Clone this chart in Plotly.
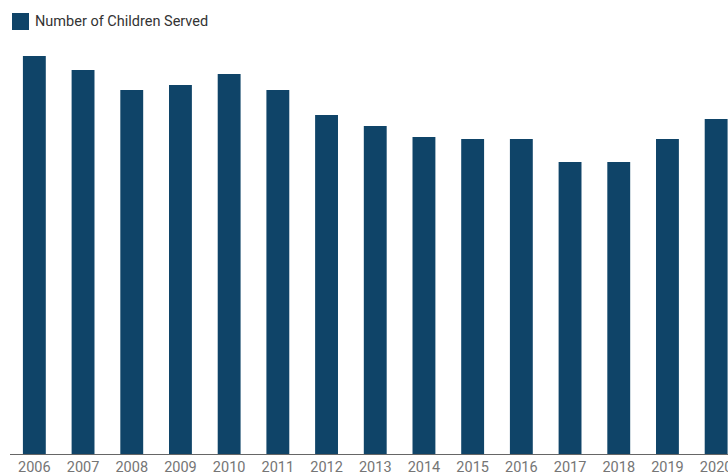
import plotly.graph_objects as go

years = ["2006", "2007", "2008", "2009", "2010", "2011", "2012", "2013",
         "2014", "2015", "2016", "2017", "2018", "2019", "2020"]
children_served = [398, 384, 364, 369, 380, 364, 339, 328, 317, 315, 315, 292, 292, 315, 335]
series_name = "Number of Children Served"
bar_color = "#0f4468"

W, H = 728, 476
ml, mr, mt, mb = 10, 0, 40, 22

fig = go.Figure()
fig.add_trace(go.Bar(x=list(range(len(years))), y=children_served, name=series_name,
                     marker=dict(color=bar_color, line=dict(width=0)),
                     showlegend=False))

cat_px = 48.7
plot_w = W - ml - mr
fig.update_layout(
    width=W, height=H,
    margin=dict(l=ml, r=mr, t=mt, b=mb),
    paper_bgcolor="white", plot_bgcolor="white",
    bargap=0.53,
    font=dict(family="Roboto", size=14, color="#757575"),
    xaxis=dict(range=[-0.5, -0.5 + plot_w / cat_px], tickmode="array",
               tickvals=list(range(len(years))), ticktext=years,
               showgrid=False, zeroline=False, showline=True,
               linecolor="#666666", linewidth=1, ticks="", ticklen=0,
               ticklabeloverflow="allow", ticklabelstandoff=0,
               automargin=False,
               tickfont=dict(family="Roboto", size=14.5, color="#757575"),
               fixedrange=True),
    yaxis=dict(range=[0, 414], visible=False, showgrid=False, zeroline=False,
               automargin=False),
)

# legend drawn manually to match the larger swatch
fig.add_shape(type="rect", xref="paper", yref="paper",
              x0=(12 - ml) / plot_w, x1=(29 - ml) / plot_w,
              y0=1 + (mt - 13) / (H - mt - mb), y1=1 + (mt - 30) / (H - mt - mb),
              fillcolor=bar_color, line=dict(width=0))
fig.add_annotation(text=series_name, xref="paper", yref="paper",
                   x=(33 - ml) / plot_w, y=1 + (mt - 21.5) / (H - mt - mb),
                   xanchor="left", yanchor="middle", showarrow=False,
                   font=dict(family="Roboto", size=14.5, color="#333333"))

fig.write_html("out.html")
